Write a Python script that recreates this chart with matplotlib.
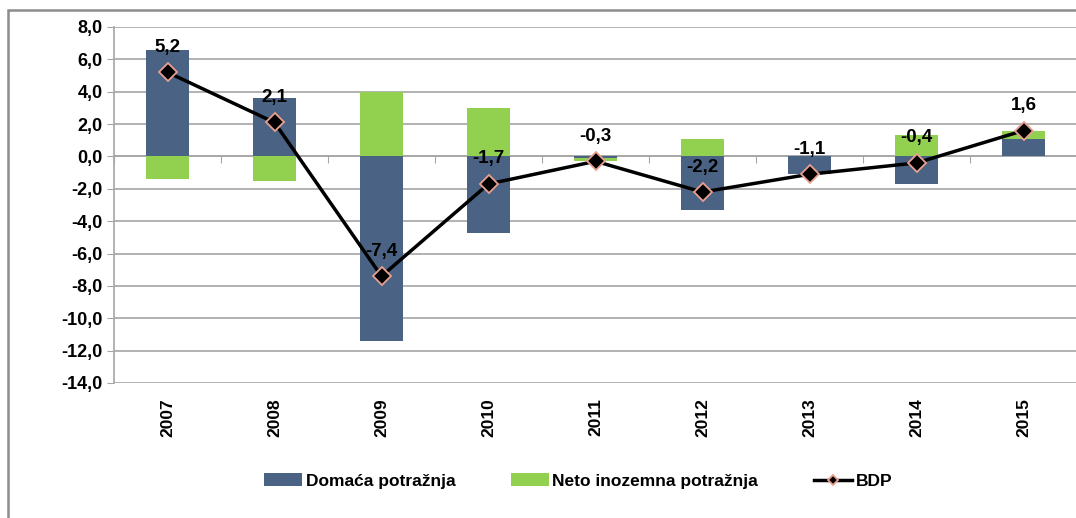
import matplotlib
matplotlib.use("Agg")
import matplotlib.pyplot as plt
from matplotlib.patches import Rectangle
from matplotlib.ticker import FuncFormatter
import numpy as np

plt.rcParams['font.family'] = ['Liberation Sans', 'DejaVu Sans']

godine = ['2007', '2008', '2009', '2010', '2011', '2012', '2013', '2014', '2015']
domaca = [6.6, 3.6, -11.4, -4.7, -0.1, -3.3, -1.1, -1.7, 1.1]
neto = [-1.4, -1.5, 4.0, 3.0, -0.2, 1.1, 0.0, 1.3, 0.5]
bdp = [5.2, 2.1, -7.4, -1.7, -0.3, -2.2, -1.1, -0.4, 1.6]

plava = '#4a6384'
zelena = '#92d050'
siva = '#a6a6a6'

W, H = 1076, 518
fig = plt.figure(figsize=(W / 100, H / 100), dpi=100)
ax = fig.add_axes([114 / W, 1 - 383 / H, 963 / W, (383 - 27) / H])

x = np.arange(len(godine))
# Excel-style stacked bars: positives stack up, negatives stack down
dno = [max(d, 0) if n >= 0 else min(d, 0) for d, n in zip(domaca, neto)]
b1 = ax.bar(x, domaca, width=0.4, color=plava, zorder=2, label='Domaća potražnja')
b2 = ax.bar(x, neto, width=0.4, bottom=dno, color=zelena, zorder=2, label='Neto inozemna potražnja')
l1, = ax.plot(x, bdp, color='black', lw=2.5, marker='D', ms=9, mfc='black',
              mec='#e8a090', mew=1.3, zorder=4, label='BDP')

for xi, v in zip(x, bdp):
    ax.annotate(f"{v:.1f}".replace('.', ','), (xi, v), xytext=(0, 18),
                textcoords='offset points', ha='center', va='center',
                fontsize=13.5, fontweight='bold', zorder=5)

ax.set_xlim(-0.5, len(godine) - 0.5)
ax.set_ylim(-14, 8)
ax.set_yticks(np.arange(-14, 8.1, 2))
ax.yaxis.set_major_formatter(FuncFormatter(lambda v, p: f"{v:.1f}".replace('.', ',')))
ax.grid(axis='y', color=siva, lw=1.2, zorder=0)
ax.set_axisbelow(True)

for s in ['top', 'right']:
    ax.spines[s].set_visible(False)
ax.spines['left'].set_color(siva)
ax.spines['left'].set_linewidth(1.2)
ax.spines['bottom'].set_position(('data', 0))
ax.spines['bottom'].set_color(siva)
ax.spines['bottom'].set_linewidth(1.2)
ax.spines['bottom'].set_zorder(1)

ax.set_xticks(np.arange(-0.5, len(godine), 1.0))
ax.tick_params(axis='x', length=5, color=siva, labelbottom=False)
ax.tick_params(axis='y', length=5, color=siva, labelsize=13, pad=3)
for t in ax.get_yticklabels():
    t.set_fontweight('bold')

sec = ax.secondary_xaxis('bottom')
sec.set_xticks(x)
sec.set_xticklabels(godine, rotation=90, fontsize=12.5, fontweight='bold')
sec.tick_params(length=0, pad=11)
sec.spines['bottom'].set_visible(False)

fig.legend(handles=[b1, b2, l1], loc='center', bbox_to_anchor=(578 / W, 1 - 481 / H),
           ncol=3, frameon=False, handlelength=2.2, handleheight=0.7, handletextpad=0.2,
           columnspacing=3.2, markerscale=0.6, prop={'weight': 'bold', 'size': 12.5})

fig.add_artist(Rectangle((8 / W, -0.1), 1.2, 1.1 - 10 / H, transform=fig.transFigure,
                         fill=False, edgecolor='#8c8c8c', lw=1.8))

fig.savefig('out.png', dpi=100)
